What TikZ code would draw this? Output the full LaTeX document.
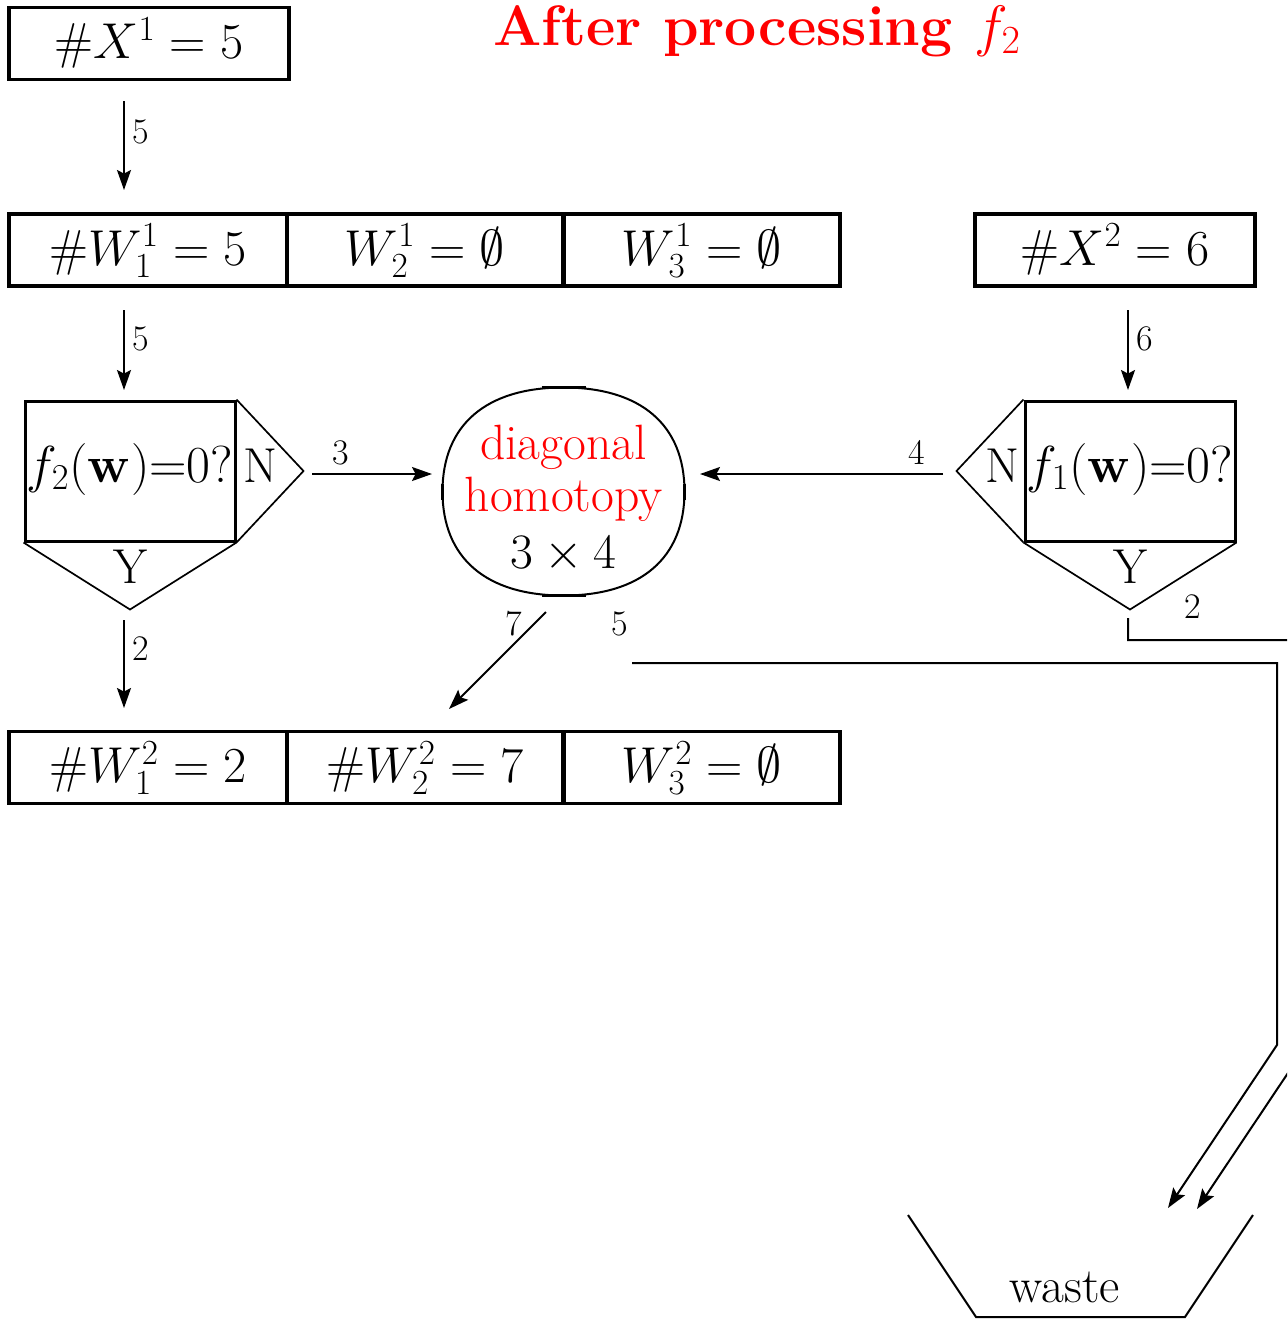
\documentclass[tikz,border=0pt]{standalone}
\usepackage{fix-cm}
\usetikzlibrary{arrows.meta,calc,shapes.geometric}
\begin{document}
\begin{tikzpicture}[x=0.5pt,y=-0.5pt,
  cell/.style={draw, line width=1.7pt, inner xsep=0pt, inner ysep=0pt,
    text height=25.5pt, text depth=10.5pt, font=\fontsize{25.2}{29}\selectfont},
  dec/.style={draw, line width=1.5pt, minimum width=105pt, inner xsep=0pt, inner ysep=0pt,
    text height=40.5pt, text depth=29.5pt, font=\fontsize{26}{30}\selectfont},
  lbl/.style={font=\fontsize{18}{21}\selectfont, anchor=base, inner sep=0pt},
  big/.style={font=\fontsize{24.5}{28}\selectfont, anchor=base, inner sep=0pt},
  dhtext/.style={font=\fontsize{24.8}{29}\selectfont, anchor=base, inner sep=0pt},
  arr/.style={line width=1pt, line join=miter, -{Stealth[length=10pt,width=7pt,inset=1.8pt]}},
  tri/.style={line width=0.85pt, line join=miter},
  thickseg/.style={line width=1.8pt}
]
\useasboundingbox (0,0) rectangle (1287,1319);
\clip (0,0) rectangle (1287,1319);

% title
\node[font=\fontsize{28.5}{33}\selectfont\bfseries, text=red, anchor=base, inner sep=0pt] (title) at (757,45) {After processing $f_2$};

% boxes
\node[cell, minimum width=140pt] (X1) at (149,43.5) {$\#X^1 = 5$};
\node[cell, minimum width=139pt] (W11) at (148,250) {$\#W_1^1 = 5$};
\node[cell, minimum width=138pt] (W21) at (425,250) {$W_2^1 = \emptyset$};
\node[cell, minimum width=138pt] (W31) at (702,250) {$W_3^1 = \emptyset$};
\node[cell, minimum width=140pt] (X2) at (1115,250) {$\#X^2 = 6$};
\node[cell, minimum width=139pt] (W12) at (148,767.5) {$\#W_1^2 = 2$};
\node[cell, minimum width=138pt] (W22) at (425,767.5) {$\#W_2^2 = 7$};
\node[cell, minimum width=138pt] (W32) at (702,767.5) {$W_3^2 = \emptyset$};

% decisions
\node[dec] (D1) at (130,471) {$f_2(\mathbf{w}){=}0?$};
\node[dec] (D2) at (1130,471) {$f_1(\mathbf{w}){=}0?$};
\draw[tri] (D1.north east) -- ($(D1.east)+(67,0)$) coordinate (D1n) -- (D1.south east);
\draw[tri] (D1.south west) -- ($(D1.south)+(0,67)$) coordinate (D1y) -- (D1.south east);
\draw[tri] (D2.north west) -- ($(D2.west)+(-67,0)$) coordinate (D2n) -- (D2.south west);
\draw[tri] (D2.south west) -- ($(D2.south)+(0,67)$) coordinate (D2y) -- (D2.south east);
\node[big] (N1) at (260,482) {N};
\node[big] (Y1) at (130,583) {Y};
\node[big] (N2) at (1002,482) {N};
\node[big] (Y2) at (1130,583) {Y};

% diagonal homotopy (rounded oval)
\coordinate (DH) at (563.5,491.5);
\coordinate (DHn) at (563.5,387.5);
\coordinate (DHs) at (563.5,595.5);
\coordinate (DHw) at (442.5,491.5);
\coordinate (DHe) at (684.5,491.5);
\draw[line width=1pt]
  (DHn) .. controls (641,387.5) and (684.5,425) .. (DHe)
        .. controls (684.5,558) and (641,595.5) .. (DHs)
        .. controls (486,595.5) and (442.5,558) .. (DHw)
        .. controls (442.5,425) and (486,387.5) .. (DHn) -- cycle;
\draw[thickseg] ($(DHn)+(-22,0)$) -- ($(DHn)+(22,0)$);
\draw[thickseg] ($(DHs)+(-22,0)$) -- ($(DHs)+(22,0)$);
\draw[thickseg] ($(DHw)+(0,-8)$) -- ($(DHw)+(0,8)$);
\draw[thickseg] ($(DHe)+(0,-8)$) -- ($(DHe)+(0,8)$);
\node[dhtext, text=red] (dh1) at (563.5,459) {diagonal};
\node[dhtext, text=red] (dh2) at (563.5,511) {homotopy};
\node[dhtext] (dh3) at (563.5,568) {$3\times 4$};

% waste
\coordinate (wa) at (908,1215);
\coordinate (wb) at (976,1317);
\coordinate (wc) at (1185,1317);
\coordinate (wd) at (1253,1215);
\draw[line width=1pt, line join=miter] (wa) -- (wb) -- (wc) -- (wd);
\node[dhtext] (waste) at (1065,1302) {waste};

% connector end points
\coordinate (a1s) at (124,101);  \coordinate (a1e) at (124,190);
\coordinate (a2s) at (124,310);  \coordinate (a2e) at (124,390);
\coordinate (a3s) at (1128,310); \coordinate (a3e) at (1128,390);
\coordinate (a4s) at (124,620);  \coordinate (a4e) at (124,708);
\coordinate (a5s) at (312,474);  \coordinate (a5e) at (432,474);
\coordinate (a6s) at (943,474);  \coordinate (a6e) at (700,474);
\coordinate (a7s) at (546,612);  \coordinate (a7e) at (449,709);
\coordinate (pAs) at (632,663);  \coordinate (pA1) at (1277,663);
\coordinate (pA2) at (1277,1045); \coordinate (pAe) at (1168,1208);
\coordinate (pBs) at (1128,618); \coordinate (pB1) at (1128,640);
\coordinate (pB2) at (1300,640); \coordinate (pB3) at (1300,1055);
\coordinate (pBe) at (1197,1209);

\draw[arr] (a1s) -- (a1e);
\draw[arr] (a2s) -- (a2e);
\draw[arr] (a3s) -- (a3e);
\draw[arr] (a4s) -- (a4e);
\draw[arr] (a5s) -- (a5e);
\draw[arr] (a6s) -- (a6e);
\draw[arr] (a7s) -- (a7e);
\draw[arr] (pAs) -- (pA1) -- (pA2) -- (pAe);
\draw[arr] (pBs) -- (pB1) -- (pB2) -- (pB3) -- (pBe);

% labels
\node[lbl] (l1) at (141,143) {5};
\node[lbl] (l2) at (141,350) {5};
\node[lbl] (l3) at (1145,350) {6};
\node[lbl] (l4) at (141,660) {2};
\node[lbl] (l5) at (341,464) {3};
\node[lbl] (l6) at (917,464) {4};
\node[lbl] (l7) at (514,635) {7};
\node[lbl] (l8) at (620,635) {5};
\node[lbl] (l9) at (1193,618) {2};
\end{tikzpicture}
\end{document}
